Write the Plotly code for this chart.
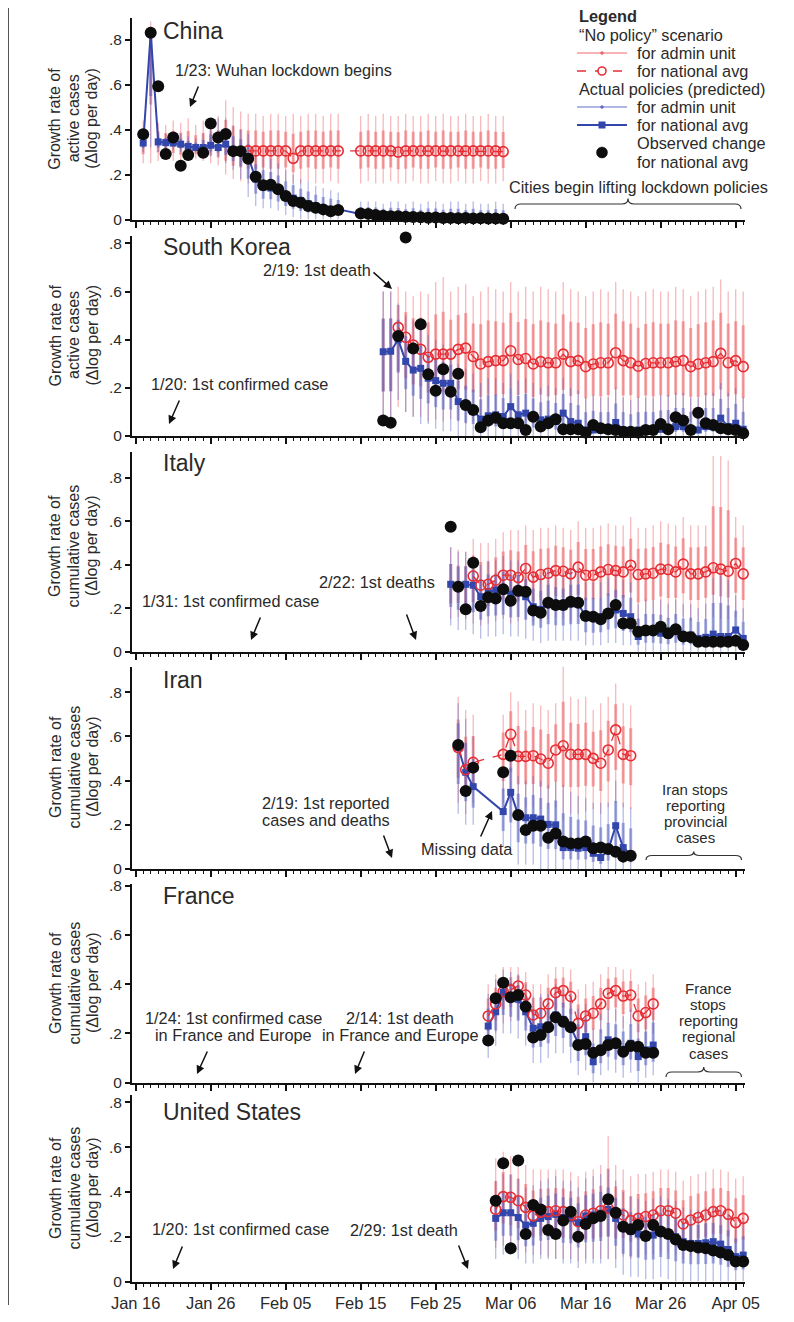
import plotly.graph_objects as go
import pandas as pd

# ------------------------------------------------------------------ data
# values (growth rate, delta-log per day)

CHINA_START = "2020-01-17"
CHINA_OBS = [0.379, 0.83, 0.593, 0.291, 0.365, 0.239, 0.287, None, 0.297, 0.427,
             0.365, 0.38, 0.304, 0.304, 0.27, 0.19, 0.152, 0.155, 0.134, 0.104,
             0.082, 0.075, 0.06, 0.052, 0.045, 0.037, 0.042, None, None, 0.027,
             0.025, 0.02, 0.017, 0.015, 0.014, 0.012, 0.011, 0.01, 0.008, 0.009,
             0.007, 0.007, 0.006, 0.007, 0.005, 0.006, 0.004, 0.004, 0.003]
CHINA_POL = [0.34, 0.83, 0.345, 0.342, 0.34, 0.335, 0.325, 0.32, 0.32, 0.33,
             0.32, 0.335, 0.31, 0.305, 0.28, 0.18, 0.145, 0.14, 0.13, 0.11,
             0.095, 0.085, 0.07, 0.06, 0.05, 0.045, 0.045, None, None, 0.025,
             0.025, 0.022, 0.02, 0.018, 0.017, 0.015, 0.014, 0.012, 0.012, 0.011,
             0.01, 0.009, 0.009, 0.008, 0.008, 0.007, 0.007, 0.006, 0.006]
CHINA_NOP = [None, None, None, None, None, None, None, None, None, None,
             None, None, None, None, 0.305, 0.305, 0.305, 0.305, 0.305, 0.305,
             0.272, 0.305, 0.305, 0.305, 0.305, 0.305, 0.305, None, None, 0.305,
             0.305, 0.305, 0.305, 0.305, 0.3, 0.305, 0.305, 0.305, 0.305, 0.305,
             0.305, 0.305, 0.305, 0.305, 0.305, 0.305, 0.305, 0.305, 0.302]
CHINA_RLO = [0.25, 0.25, 0.26, 0.27, 0.26, 0.25, 0.26, 0.27, 0.26, 0.25,
             0.24, 0.2, 0.18, 0.17, 0.16, 0.16, 0.17, 0.16, 0.16, 0.17,
             0.16, 0.16, 0.17, 0.16, 0.16, 0.17, 0.16, None, None, 0.16,
             0.17, 0.16, 0.16, 0.17, 0.16, 0.16, 0.17, 0.16, 0.16, 0.17,
             0.16, 0.16, 0.17, 0.16, 0.16, 0.17, 0.16, 0.16, 0.17]
CHINA_RHI = [0.44, 0.88, 0.43, 0.42, 0.44, 0.43, 0.45, 0.42, 0.44, 0.45,
             0.46, 0.53, 0.5, 0.48, 0.47, 0.47, 0.46, 0.47, 0.47, 0.46,
             0.47, 0.46, 0.47, 0.47, 0.46, 0.47, 0.47, None, None, 0.46,
             0.47, 0.46, 0.47, 0.46, 0.46, 0.47, 0.46, 0.46, 0.47, 0.46,
             0.47, 0.46, 0.46, 0.47, 0.46, 0.46, 0.47, 0.46, 0.46]
CHINA_BLO = [0.3, 0.32, 0.3, 0.3, 0.31, 0.3, 0.29, 0.3, 0.29, 0.28,
             0.28, 0.25, 0.22, 0.18, 0.1, 0.06, 0.05, 0.05, 0.04, 0.02,
             0.01, 0.0, 0.0, 0.0, 0.0, 0.0, 0.0, None, None, 0.0,
             0.0, 0.0, 0.0, 0.0, 0.0, 0.0, 0.0, 0.0, 0.0, 0.0,
             0.0, 0.0, 0.0, 0.0, 0.0, 0.0, 0.0, 0.0, 0.0]
CHINA_BHI = [0.38, 0.85, 0.38, 0.38, 0.37, 0.38, 0.37, 0.36, 0.38, 0.42,
             0.45, 0.45, 0.42, 0.4, 0.38, 0.3, 0.28, 0.27, 0.25, 0.22,
             0.2, 0.18, 0.17, 0.15, 0.14, 0.13, 0.12, None, None, 0.08,
             0.08, 0.08, 0.07, 0.08, 0.08, 0.07, 0.08, 0.07, 0.08, 0.08,
             0.07, 0.08, 0.08, 0.07, 0.08, 0.07, 0.07, 0.08, 0.07]

KOREA_START = "2020-02-18"
KOREA_OBS = [0.064, 0.055, 0.415, 0.825, 0.363, 0.464, 0.256, 0.188, 0.277, 0.184,
             0.259, 0.129, 0.108, 0.036, 0.064, 0.076, 0.053, 0.053, 0.053, 0.025,
             0.08, 0.039, 0.053, 0.07, 0.028, 0.028, 0.028, 0.014, 0.046, 0.032,
             0.028, 0.025, 0.018, 0.018, 0.014, 0.025, 0.025, 0.05, 0.028, 0.078,
             0.064, 0.025, 0.097, 0.053, 0.046, 0.032, 0.028, 0.025, 0.011]
KOREA_POL = [0.35, 0.352, 0.40, 0.31, 0.274, 0.281, 0.24, 0.23, 0.219, 0.219,
             0.143, 0.122, 0.11, 0.07, 0.084, 0.088, 0.081, 0.122, 0.088, 0.095,
             0.078, 0.067, 0.07, 0.06, 0.095, 0.06, 0.053, 0.025, 0.025, 0.025,
             0.025, 0.056, 0.025, 0.018, 0.025, 0.028, 0.025, 0.028, 0.032, 0.039,
             0.039, 0.028, 0.025, 0.039, 0.039, 0.074, 0.039, 0.053, 0.028]
KOREA_NOP = [None, None, 0.451, 0.41, 0.378, 0.36, 0.327, 0.34, 0.34, 0.34,
             0.36, 0.365, 0.33, 0.299, 0.309, 0.313, 0.313, 0.354, 0.318, 0.322,
             0.299, 0.309, 0.304, 0.304, 0.34, 0.309, 0.313, 0.288, 0.299, 0.304,
             0.304, 0.346, 0.313, 0.304, 0.29, 0.301, 0.304, 0.304, 0.304, 0.309,
             0.313, 0.288, 0.299, 0.304, 0.309, 0.343, 0.304, 0.313, 0.288]
KOREA_RLO = [0.05, 0.05, 0.12, 0.1, 0.08, 0.08, 0.06, 0.07, 0.06, 0.07,
             0.06, 0.05, 0.06, 0.05, 0.06, 0.05, 0.06, 0.07, 0.05, 0.06,
             0.05, 0.06, 0.05, 0.06, 0.07, 0.05, 0.06, 0.05, 0.06, 0.05,
             0.06, 0.07, 0.05, 0.06, 0.05, 0.06, 0.05, 0.06, 0.05, 0.06,
             0.05, 0.06, 0.05, 0.06, 0.05, 0.07, 0.05, 0.06, 0.05]
KOREA_RHI = [0.6, 0.6, 0.62, 0.6, 0.58, 0.6, 0.59, 0.64, 0.66, 0.6,
             0.62, 0.63, 0.58, 0.6, 0.62, 0.61, 0.6, 0.64, 0.6, 0.62,
             0.6, 0.62, 0.61, 0.6, 0.64, 0.61, 0.6, 0.58, 0.6, 0.61,
             0.6, 0.64, 0.61, 0.6, 0.58, 0.6, 0.61, 0.6, 0.6, 0.62,
             0.61, 0.58, 0.6, 0.61, 0.62, 0.65, 0.6, 0.61, 0.6]
KOREA_BLO = [0.05, 0.05, 0.15, 0.1, 0.08, 0.05, 0.05, 0.03, 0.02, 0.02,
             0.0, 0.0, 0.0, 0.0, 0.0, 0.0, 0.0, 0.0, 0.0, 0.0,
             0.0, 0.0, 0.0, 0.0, 0.0, 0.0, 0.0, 0.0, 0.0, 0.0,
             0.0, 0.0, 0.0, 0.0, 0.0, 0.0, 0.0, 0.0, 0.0, 0.0,
             0.0, 0.0, 0.0, 0.0, 0.0, 0.0, 0.0, 0.0, 0.0]
KOREA_BHI = [0.6, 0.6, 0.55, 0.5, 0.48, 0.45, 0.42, 0.4, 0.38, 0.36,
             0.3, 0.28, 0.26, 0.22, 0.24, 0.24, 0.22, 0.26, 0.23, 0.24,
             0.22, 0.2, 0.21, 0.2, 0.24, 0.2, 0.19, 0.16, 0.17, 0.16,
             0.16, 0.2, 0.16, 0.15, 0.16, 0.16, 0.16, 0.17, 0.17, 0.18,
             0.18, 0.16, 0.16, 0.18, 0.18, 0.22, 0.18, 0.2, 0.16]

ITALY_START = "2020-02-27"
ITALY_OBS = [0.575, 0.299, 0.195, 0.409, 0.21, 0.25, 0.245, 0.287, 0.234, 0.28,
             0.276, 0.189, 0.179, 0.225, 0.215, 0.215, 0.23, 0.225, 0.164, 0.161,
             0.149, 0.176, 0.215, 0.13, 0.13, 0.092, 0.097, 0.097, 0.115, 0.085,
             0.103, 0.07, 0.067, 0.046, 0.046, 0.046, 0.046, 0.046, 0.05, 0.031]
ITALY_POL = [0.31, 0.306, 0.31, 0.306, 0.253, 0.276, 0.284, 0.28, 0.265, 0.27,
             0.253, 0.207, 0.195, 0.22, 0.21, 0.207, 0.22, 0.222, 0.161, 0.158,
             0.161, 0.179, 0.192, 0.176, 0.161, 0.07, 0.092, 0.092, 0.085, 0.077,
             0.092, 0.07, 0.077, 0.061, 0.066, 0.081, 0.07, 0.07, 0.1, 0.061]
ITALY_NOP = [None, None, None, 0.348, 0.306, 0.31, 0.329, 0.352, 0.352, 0.341,
             0.383, 0.343, 0.355, 0.361, 0.373, 0.37, 0.358, 0.389, 0.352, 0.352,
             0.367, 0.378, 0.373, 0.367, 0.398, 0.355, 0.358, 0.361, 0.38, 0.378,
             0.367, 0.403, 0.358, 0.358, 0.367, 0.386, 0.38, 0.37, 0.406, 0.358]
ITALY_RLO = [0.15, 0.16, 0.15, 0.13, 0.12, 0.13, 0.14, 0.15, 0.13, 0.14,
             0.15, 0.14, 0.14, 0.15, 0.16, 0.15, 0.14, 0.16, 0.14, 0.15,
             0.15, 0.16, 0.15, 0.15, 0.17, 0.12, 0.13, 0.14, 0.15, 0.14,
             0.15, 0.16, 0.14, 0.14, 0.15, 0.16, 0.15, 0.15, 0.16, 0.14]
ITALY_RHI = [0.48, 0.47, 0.46, 0.52, 0.5, 0.5, 0.52, 0.55, 0.56, 0.56,
             0.58, 0.56, 0.57, 0.57, 0.58, 0.57, 0.56, 0.6, 0.57, 0.57,
             0.58, 0.59, 0.58, 0.58, 0.62, 0.57, 0.57, 0.58, 0.6, 0.59,
             0.58, 0.62, 0.58, 0.58, 0.58, 0.9, 0.9, 0.88, 0.62, 0.58]
ITALY_BLO = [0.12, 0.1, 0.1, 0.08, 0.06, 0.07, 0.07, 0.08, 0.07, 0.07,
             0.06, 0.05, 0.04, 0.05, 0.05, 0.05, 0.05, 0.05, 0.03, 0.03,
             0.03, 0.04, 0.04, 0.03, 0.03, 0.0, 0.0, 0.0, 0.0, 0.0,
             0.0, 0.0, 0.0, 0.0, 0.0, 0.0, 0.0, 0.0, 0.0, 0.0]
ITALY_BHI = [0.48, 0.46, 0.46, 0.44, 0.4, 0.42, 0.42, 0.44, 0.42, 0.42,
             0.4, 0.36, 0.35, 0.38, 0.37, 0.36, 0.38, 0.38, 0.32, 0.32,
             0.32, 0.34, 0.36, 0.33, 0.32, 0.22, 0.24, 0.24, 0.24, 0.22,
             0.24, 0.22, 0.22, 0.2, 0.22, 0.34, 0.35, 0.33, 0.26, 0.2]

IRAN_START = "2020-02-28"
IRAN_OBS = [0.562, 0.353, 0.459, None, None, None, 0.438, 0.513, 0.245, 0.177,
            0.196, 0.196, 0.142, 0.161, 0.124, 0.116, 0.116, 0.124, 0.094, 0.097,
            0.091, 0.078, 0.056, 0.06]
IRAN_POL = [0.55, 0.438, 0.373, None, None, None, 0.26, 0.347, 0.245, 0.232,
            0.232, 0.226, 0.202, 0.2, 0.097, 0.097, 0.094, 0.097, 0.071, 0.052,
            0.085, 0.196, 0.097, 0.067]
IRAN_NOP = [0.55, 0.45, 0.483, None, None, None, 0.519, 0.61, 0.51, 0.51,
            0.513, 0.498, 0.479, 0.539, 0.558, 0.519, 0.519, 0.519, 0.501, 0.479,
            0.539, 0.63, 0.519, 0.513]
IRAN_RLO = [0.3, 0.25, 0.3, None, None, None, 0.3, 0.3, 0.28, 0.28,
            0.28, 0.27, 0.27, 0.28, 0.22, 0.25, 0.25, 0.26, 0.27, 0.25,
            0.28, 0.3, 0.28, 0.27]
IRAN_RHI = [0.78, 0.72, 0.7, None, None, None, 0.7, 0.8, 0.76, 0.72,
            0.75, 0.74, 0.72, 0.75, 0.92, 0.78, 0.77, 0.78, 0.72, 0.75,
            0.78, 0.84, 0.75, 0.74]
IRAN_BLO = [0.25, 0.2, 0.2, None, None, None, 0.1, 0.1, 0.02, 0.02,
            0.02, 0.0, 0.0, 0.0, 0.0, 0.0, 0.0, 0.0, 0.0, 0.0,
            0.0, 0.0, 0.0, 0.0]
IRAN_BHI = [0.75, 0.68, 0.6, None, None, None, 0.45, 0.55, 0.42, 0.4,
            0.42, 0.4, 0.38, 0.4, 0.38, 0.35, 0.33, 0.32, 0.3, 0.3,
            0.3, 0.4, 0.3, 0.28]

FRANCE_START = "2020-03-03"
FRANCE_OBS = [0.171, 0.343, 0.406, 0.347, 0.356, 0.309, 0.184, 0.194, 0.225, 0.266,
              0.248, 0.225, 0.153, 0.157, 0.122, 0.132, 0.153, 0.16, 0.126, 0.149,
              0.146, 0.122, 0.122]
FRANCE_POL = [0.23, 0.288, 0.366, 0.35, 0.339, 0.288, 0.221, 0.227, 0.234, 0.275,
              0.257, 0.227, 0.16, 0.187, 0.085, 0.14, 0.174, 0.16, 0.133, 0.16,
              0.106, 0.133, 0.153]
FRANCE_NOP = [0.271, 0.32, 0.37, 0.377, 0.393, 0.356, 0.275, 0.282, 0.32, 0.366,
              0.374, 0.35, 0.241, 0.271, 0.282, 0.32, 0.363, 0.374, 0.352, 0.356,
              0.271, 0.285, 0.32]
FRANCE_RLO = [0.16, 0.2, 0.24, 0.25, 0.26, 0.23, 0.16, 0.17, 0.2, 0.24,
              0.25, 0.22, 0.13, 0.15, 0.16, 0.2, 0.24, 0.25, 0.22, 0.23,
              0.15, 0.16, 0.2]
FRANCE_RHI = [0.4, 0.44, 0.47, 0.47, 0.47, 0.45, 0.4, 0.4, 0.44, 0.47,
              0.47, 0.46, 0.38, 0.4, 0.41, 0.44, 0.47, 0.47, 0.46, 0.46,
              0.4, 0.41, 0.44]
FRANCE_BLO = [0.1, 0.15, 0.2, 0.2, 0.18, 0.15, 0.08, 0.08, 0.1, 0.12,
              0.12, 0.08, 0.03, 0.05, 0.0, 0.03, 0.05, 0.04, 0.02, 0.04,
              0.0, 0.02, 0.03]
FRANCE_BHI = [0.36, 0.42, 0.46, 0.45, 0.44, 0.4, 0.35, 0.36, 0.36, 0.4,
              0.38, 0.36, 0.3, 0.32, 0.22, 0.28, 0.3, 0.3, 0.27, 0.3,
              0.24, 0.27, 0.32]

US_START = "2020-03-04"
US_OBS = [0.361, 0.528, 0.148, 0.54, 0.212, 0.342, 0.322, 0.23, 0.212, 0.272,
          0.312, 0.2, 0.257, 0.282, 0.293, 0.367, 0.307, 0.245, 0.233, 0.252,
          0.203, 0.252, 0.223, 0.212, 0.188, 0.163, 0.158, 0.152, 0.148, 0.138,
          0.129, 0.118, 0.089, 0.089]
US_POL = [0.282, 0.307, 0.307, 0.286, 0.252, 0.26, 0.282, 0.29, 0.3, 0.286,
          0.282, 0.263, 0.293, 0.297, 0.305, 0.322, 0.282, 0.238, 0.223, 0.212,
          0.203, 0.207, 0.218, 0.212, 0.2, 0.178, 0.17, 0.17, 0.173, 0.178,
          0.167, 0.143, 0.111, 0.118]
US_NOP = [0.322, 0.379, 0.376, 0.361, 0.331, 0.293, 0.31, 0.312, 0.316, 0.312,
          0.297, 0.267, 0.297, 0.305, 0.316, 0.327, 0.307, 0.297, 0.272, 0.282,
          0.29, 0.297, 0.316, 0.316, 0.305, 0.257, 0.275, 0.286, 0.297, 0.312,
          0.316, 0.3, 0.263, 0.282]
US_RLO = [0.15, 0.16, 0.15, 0.14, 0.13, 0.12, 0.12, 0.11, 0.1, 0.1,
          0.1, 0.09, 0.1, 0.1, 0.1, 0.1, 0.1, 0.11, 0.1, 0.11,
          0.12, 0.12, 0.13, 0.13, 0.12, 0.1, 0.11, 0.12, 0.12, 0.13,
          0.13, 0.12, 0.1, 0.11]
US_RHI = [0.55, 0.58, 0.56, 0.54, 0.52, 0.5, 0.5, 0.5, 0.5, 0.5,
          0.49, 0.47, 0.49, 0.5, 0.52, 0.65, 0.52, 0.5, 0.47, 0.48,
          0.48, 0.49, 0.5, 0.5, 0.49, 0.45, 0.47, 0.48, 0.49, 0.5,
          0.5, 0.49, 0.46, 0.47]
US_BLO = [0.1, 0.12, 0.12, 0.1, 0.08, 0.08, 0.1, 0.1, 0.1, 0.08,
          0.08, 0.06, 0.08, 0.08, 0.08, 0.1, 0.06, 0.03, 0.02, 0.02,
          0.01, 0.01, 0.02, 0.01, 0.0, 0.0, 0.0, 0.0, 0.0, 0.0,
          0.0, 0.0, 0.0, 0.0]
US_BHI = [0.45, 0.48, 0.48, 0.46, 0.42, 0.43, 0.45, 0.46, 0.47, 0.45,
          0.45, 0.42, 0.46, 0.47, 0.48, 0.5, 0.45, 0.4, 0.38, 0.37,
          0.36, 0.37, 0.38, 0.37, 0.36, 0.33, 0.32, 0.32, 0.33, 0.33,
          0.32, 0.3, 0.26, 0.27]

Y_TICKVALS = [0, 0.2, 0.4, 0.6, 0.8]
Y_TICKTEXT = ["0", ".2", ".4", ".6", ".8"]
X_TICK0 = "2020-01-16"
X_RANGE = ["2020-01-15 12:10", "2020-04-06 05:45"]

# ------------------------------------------------------------------ layout helpers
# the page body has an 8px margin, so the figure is drawn 8px in from the corner
OFF = 8
W, H = 794 - 2 * OFF, 1322 - 2 * OFF
PLOT_L, PLOT_R = 132, 745          # plot area in reference pixels
ML = PLOT_L - OFF
MR = W - (PLOT_R - OFF)
PW = PLOT_R - PLOT_L


def fx(p):
    return (p - PLOT_L) / PW


def fy(p):
    return (H - (p - OFF)) / H


FONT = "Liberation Sans, Arial, sans-serif"
TXT = "#2a2a2a"
RED = "rgb(230,45,52)"
BLUE = "rgb(50,70,172)"
RED_A = "rgba(236,85,90,{})"
BLUE_A = "rgba(82,92,192,{})"
FS = 16.3          # annotation font size

ACTIVE = ["Growth rate of", "active cases", "(\u0394log per day)"]
CUMUL = ["Growth rate of", "cumulative cases", "(\u0394log per day)"]

PANELS = [
    dict(name="China", start=CHINA_START, obs=CHINA_OBS, pol=CHINA_POL, nop=CHINA_NOP,
         rlo=CHINA_RLO, rhi=CHINA_RHI, blo=CHINA_BLO, bhi=CHINA_BHI,
         top=18, bot=219.5, ymax=0.896, ylab=ACTIVE, title_y=31, ymid=118.8),
    dict(name="South Korea", start=KOREA_START, obs=KOREA_OBS, pol=KOREA_POL, nop=KOREA_NOP,
         rlo=KOREA_RLO, rhi=KOREA_RHI, blo=KOREA_BLO, bhi=KOREA_BHI,
         top=235.7, bot=436, ymax=0.832, ylab=ACTIVE, title_y=247, ymid=335.5),
    dict(name="Italy", start=ITALY_START, obs=ITALY_OBS, pol=ITALY_POL, nop=ITALY_NOP,
         rlo=ITALY_RLO, rhi=ITALY_RHI, blo=ITALY_BLO, bhi=ITALY_BHI,
         top=451.7, bot=651.7, ymax=0.92, ylab=CUMUL, title_y=463, ymid=546),
    dict(name="Iran", start=IRAN_START, obs=IRAN_OBS, pol=IRAN_POL, nop=IRAN_NOP,
         rlo=IRAN_RLO, rhi=IRAN_RHI, blo=IRAN_BLO, bhi=IRAN_BHI,
         top=666.7, bot=869, ymax=0.916, ylab=CUMUL, title_y=680, ymid=767),
    dict(name="France", start=FRANCE_START, obs=FRANCE_OBS, pol=FRANCE_POL, nop=FRANCE_NOP,
         rlo=FRANCE_RLO, rhi=FRANCE_RHI, blo=FRANCE_BLO, bhi=FRANCE_BHI,
         top=884, bot=1082.7, ymax=0.807, ylab=CUMUL, title_y=896, ymid=983),
    dict(name="United States", start=US_START, obs=US_OBS, pol=US_POL, nop=US_NOP,
         rlo=US_RLO, rhi=US_RHI, blo=US_BLO, bhi=US_BHI,
         top=1095, bot=1281.5, ymax=0.833, ylab=CUMUL, title_y=1112, ymid=1188),
]

fig = go.Figure()
annotations = []
shapes = []


def txt(x, y, s, size=FS, anchor="center", angle=0, bold=False):
    if bold:
        s = "<b>" + s + "</b>"
    return dict(xref="paper", yref="paper", x=fx(x), y=fy(y), text=s, showarrow=False,
                xanchor=anchor, yanchor="middle", textangle=angle,
                font=dict(size=size, color=TXT, family=FONT))


def arrow(tx, ty, hx, hy):
    return dict(xref="paper", yref="paper", x=fx(hx), y=fy(hy), ax=tx - hx, ay=ty - hy,
                text="", showarrow=True, arrowhead=2, arrowsize=1.1, arrowwidth=1.5,
                arrowcolor="#111")


def lines(x, y0, rows, step, size=FS):
    return [txt(x, y0 + k * step, r, size=size) for k, r in enumerate(rows)]


def brace(x0, x1, ytip, ybar, ypeak, r=6):
    xm = (x0 + x1) / 2

    def P(x, y):
        return "%.5f,%.5f" % (fx(x), fy(y))
    path = ("M " + P(x0, ytip) + " Q " + P(x0, ybar) + " " + P(x0 + r, ybar)
            + " L " + P(xm - r, ybar) + " Q " + P(xm, ybar) + " " + P(xm, ypeak)
            + " Q " + P(xm, ybar) + " " + P(xm + r, ybar)
            + " L " + P(x1 - r, ybar) + " Q " + P(x1, ybar) + " " + P(x1, ytip))
    return dict(type="path", xref="paper", yref="paper", path=path,
                line=dict(color="#333", width=1.2))


# ------------------------------------------------------------------ traces
for i, p in enumerate(PANELS, start=1):
    dates = [d.strftime("%Y-%m-%d") for d in
             pd.date_range(p["start"], periods=len(p["obs"]), freq="D")]
    xa, ya = "x%d" % i, "y%d" % i
    for lo, hi, mid, alt, col in [(p["rlo"], p["rhi"], p["nop"], p["pol"], RED_A),
                                  (p["blo"], p["bhi"], p["pol"], p["pol"], BLUE_A)]:
        xs, ys, xi, yi = [], [], [], []
        for k, dt in enumerate(dates):
            a, b = lo[k], hi[k]
            if a is None or b is None:
                continue
            xs += [dt, dt, None]
            ys += [a, b, None]
            c = mid[k] if mid[k] is not None else alt[k]
            if c is None:
                c = (a + b) / 2
            c = min(max(c, a), b)
            xi += [dt, dt, None]
            yi += [c - 0.55 * (c - a), c + 0.55 * (b - c), None]
        fig.add_trace(go.Scatter(x=xs, y=ys, mode="lines", xaxis=xa, yaxis=ya,
                                 line=dict(color=col.format(0.42), width=1.3),
                                 hoverinfo="skip", showlegend=False))
        fig.add_trace(go.Scatter(x=xi, y=yi, mode="lines", xaxis=xa, yaxis=ya,
                                 line=dict(color=col.format(0.5), width=3.0),
                                 hoverinfo="skip", showlegend=False))
    fig.add_trace(go.Scatter(x=dates, y=p["pol"], mode="lines+markers", connectgaps=True,
                             xaxis=xa, yaxis=ya, cliponaxis=False,
                             line=dict(color=BLUE, width=2),
                             marker=dict(symbol="square", size=7, color=BLUE),
                             showlegend=False))
    fig.add_trace(go.Scatter(x=dates, y=p["nop"], mode="lines+markers", connectgaps=True,
                             xaxis=xa, yaxis=ya, cliponaxis=False,
                             line=dict(color=RED, width=1.3, dash="dash"),
                             marker=dict(symbol="circle-open", size=10, color=RED,
                                         line=dict(width=1.6, color=RED)),
                             showlegend=False))
    fig.add_trace(go.Scatter(x=dates, y=p["obs"], mode="markers", xaxis=xa, yaxis=ya,
                             cliponaxis=False,
                             marker=dict(size=12, color="#0d0d0d"),
                             showlegend=False))

    # axes
    fig.update_layout(**{
        "xaxis%d" % i: dict(
            domain=[0, 1], anchor=ya, type="date", range=X_RANGE,
            showline=True, linecolor="#111", linewidth=2, mirror=False,
            ticks="outside", ticklen=6, tickwidth=1.6, tickcolor="#111",
            tick0=X_TICK0, dtick=864000000, tickformat="%b %d",
            showticklabels=(i == len(PANELS)),
            tickfont=dict(size=16.5, color=TXT, family=FONT),
            minor=dict(ticks="outside", ticklen=3, tickwidth=1.2, tickcolor="#111",
                       dtick=86400000, tick0=X_TICK0, showgrid=False),
            showgrid=False, zeroline=False, automargin=False),
        "yaxis%d" % i: dict(
            domain=[fy(p["bot"]), fy(p["top"])], anchor=xa, range=[0, p["ymax"]],
            showline=True, linecolor="#111", linewidth=2,
            ticks="outside", ticklen=5, tickwidth=1.6, tickcolor="#111",
            tickvals=Y_TICKVALS, ticktext=Y_TICKTEXT,
            tickfont=dict(size=15.5, color=TXT, family=FONT),
            showgrid=False, zeroline=False, automargin=False),
    })

    annotations.append(txt(161, p["title_y"], p["name"], size=23, anchor="left"))
    for k, s in enumerate(p["ylab"]):
        annotations.append(txt(55 + 18.5 * k, p["ymid"], s, size=16, angle=-90))

# ------------------------------------------------------------------ annotations
# China
annotations.append(txt(173, 70, "1/23: Wuhan lockdown begins", anchor="left"))
annotations.append(arrow(199, 85, 190, 107))
annotations.append(txt(638, 187, "Cities begin lifting lockdown policies"))
shapes.append(brace(515, 741, 209, 204, 198.5))
# South Korea
annotations.append(txt(261, 270, "2/19: 1st death", anchor="left"))
annotations.append(arrow(372, 271, 392, 289))
annotations.append(txt(239, 384, "1/20: 1st confirmed case"))
annotations.append(arrow(180, 399, 169, 424))
# Italy
annotations.append(txt(230, 601, "1/31: 1st confirmed case"))
annotations.append(arrow(261, 616, 251, 640))
annotations.append(txt(317, 582, "2/22: 1st deaths", anchor="left"))
annotations.append(arrow(406, 613, 416, 640))
# Iran
annotations += lines(326, 803, ["2/19: 1st reported", "cases and deaths"], 16.8)
annotations.append(arrow(383, 834, 392, 858))
annotations.append(txt(467, 849, "Missing data"))
annotations.append(arrow(480, 838, 492, 811))
annotations += lines(695, 789, ["Iran stops", "reporting", "provincial", "cases"], 16.3,
                     size=15)
shapes.append(brace(646, 741.5, 860, 855.5, 851.5))
# France
annotations += lines(233, 1018, ["1/24: 1st confirmed case", "in France and Europe"], 17)
annotations.append(arrow(208, 1050, 197, 1074))
annotations += lines(400, 1018, ["2/14: 1st death", "in France and Europe"], 17)
annotations.append(arrow(365, 1050, 355, 1074))
annotations += lines(708, 988, ["France", "stops", "reporting", "regional", "cases"], 16.3,
                     size=15)
shapes.append(brace(666, 741.5, 1077, 1072, 1067))
# United States
annotations.append(txt(240, 1229, "1/20: 1st confirmed case"))
annotations.append(arrow(183, 1245, 173, 1269))
annotations.append(txt(404, 1230, "2/29: 1st death"))
annotations.append(arrow(458, 1244, 468, 1269))

# ------------------------------------------------------------------ legend (drawn)
annotations.append(txt(577, 16, "Legend", anchor="left", bold=True))
annotations.append(txt(577, 35, "\u201cNo policy\u201d scenario", anchor="left"))
annotations.append(txt(635, 53, "for admin unit", anchor="left"))
annotations.append(txt(635, 71, "for national avg", anchor="left"))
annotations.append(txt(577, 89, "Actual policies (predicted)", anchor="left"))
annotations.append(txt(635, 107, "for admin unit", anchor="left"))
annotations.append(txt(635, 125, "for national avg", anchor="left"))
annotations.append(txt(635, 143, "Observed change", anchor="left"))
annotations.append(txt(635, 162, "for national avg", anchor="left"))


def hline(x0, x1, y, color, width, dash="solid"):
    return dict(type="line", xref="paper", yref="paper", x0=fx(x0), x1=fx(x1),
                y0=fy(y), y1=fy(y), line=dict(color=color, width=width, dash=dash))


def circ(cx, cy, r, fill, line_color, lw=1.5):
    return dict(type="circle", xref="paper", yref="paper", x0=fx(cx - r), x1=fx(cx + r),
                y0=fy(cy + r), y1=fy(cy - r), fillcolor=fill,
                line=dict(color=line_color, width=lw))


shapes.append(hline(577, 627, 53, RED_A.format(0.6), 1.5))
shapes.append(circ(602, 53, 1.5, RED_A.format(0.8), RED_A.format(0.8), 0.5))
shapes.append(hline(577, 627, 71, RED, 1.6, "dash"))
shapes.append(circ(602, 71, 4, "white", RED, 1.6))
shapes.append(hline(577, 627, 107, BLUE_A.format(0.6), 1.5))
shapes.append(circ(602, 107, 1.5, BLUE_A.format(0.8), BLUE_A.format(0.8), 0.5))
shapes.append(hline(577, 627, 125, BLUE, 2))
shapes.append(dict(type="rect", xref="paper", yref="paper", x0=fx(598.5), x1=fx(605.5),
                   y0=fy(128.5), y1=fy(121.5), fillcolor=BLUE, line=dict(width=0)))
shapes.append(circ(602, 152.5, 5.5, "#0d0d0d", "#0d0d0d", 0.5))

# page edge line on the far left
shapes.append(dict(type="line", xref="paper", yref="paper", x0=fx(8.5), x1=fx(8.5),
                   y0=fy(8), y1=fy(1305), line=dict(color="#555", width=1)))

fig.update_layout(
    width=W, height=H,
    margin=dict(l=ML, r=MR, t=0, b=0),
    paper_bgcolor="white", plot_bgcolor="white",
    showlegend=False,
    font=dict(family=FONT, color=TXT),
    annotations=annotations,
    shapes=shapes,
)

fig.write_html("out.html")
